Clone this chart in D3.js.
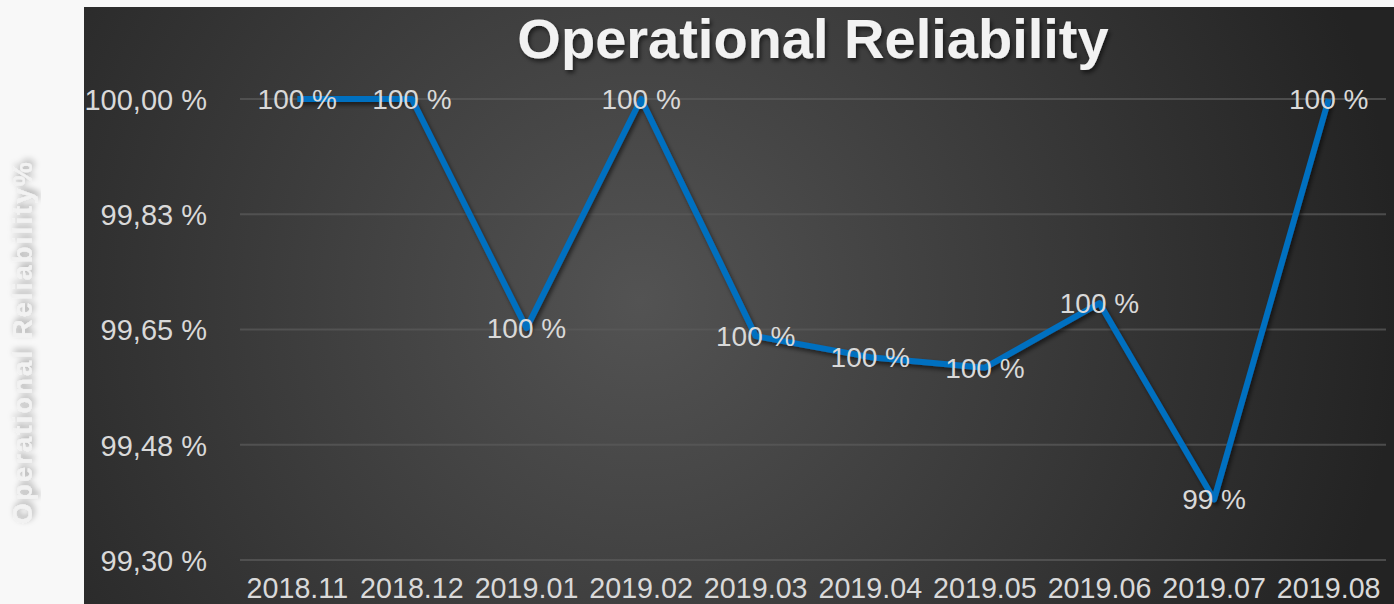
<!DOCTYPE html>
<html>
<head>
<meta charset="utf-8">
<script src="https://cdn.jsdelivr.net/npm/d3@7"></script>
<style>
  html, body { margin: 0; padding: 0; background: #f8f8f8; }
  svg { display: block; font-family: "Liberation Sans", Arial, sans-serif; }
</style>
</head>
<body>
<div id="chart"></div>
<script>
// chart values
const months = ['2018.11', '2018.12', '2019.01', '2019.02', '2019.03', '2019.04', '2019.05', '2019.06', '2019.07', '2019.08'];
const reliability = [100.0, 100.0, 99.652, 100.0, 99.640, 99.608, 99.592, 99.690, 99.392, 100.0];
const pointLabels = ['100 %', '100 %', '100 %', '100 %', '100 %', '100 %', '100 %', '100 %', '99 %', '100 %'];
const yTicks = [99.30, 99.475, 99.65, 99.825, 100.0];
const yTickLabels = ['99,30 %', '99,48 %', '99,65 %', '99,83 %', '100,00 %'];
const chartTitle = 'Operational Reliability';
const yTitle = 'Operational Reliability%';

const width = 1394, height = 604;
const panel = {x: 84, y: 7};
const plot = {left: 240, right: 1386, top: 99, bottom: 560};

const svg = d3.select('#chart').append('svg')
    .attr('width', width)
    .attr('height', height);

const defs = svg.append('defs');
const grad = defs.append('radialGradient')
    .attr('id', 'bg')
    .attr('gradientUnits', 'userSpaceOnUse')
    .attr('cx', 640).attr('cy', 300).attr('r', 760);
grad.append('stop').attr('offset', '0%').attr('stop-color', '#535353');
grad.append('stop').attr('offset', '100%').attr('stop-color', '#232323');

const shadow = defs.append('filter').attr('id', 'shadow')
    .attr('x', '-10%').attr('y', '-10%').attr('width', '120%').attr('height', '130%');
shadow.append('feDropShadow')
    .attr('dx', 2).attr('dy', 3).attr('stdDeviation', 2)
    .attr('flood-color', '#000').attr('flood-opacity', 0.55);

const softShadow = defs.append('filter').attr('id', 'softShadow')
    .attr('x', '-30%').attr('y', '-10%').attr('width', '160%').attr('height', '120%');
softShadow.append('feDropShadow')
    .attr('dx', 3).attr('dy', 2).attr('stdDeviation', 3)
    .attr('flood-color', '#000').attr('flood-opacity', 0.35);

// dark panel
svg.append('rect')
    .attr('x', panel.x).attr('y', panel.y)
    .attr('width', width - panel.x).attr('height', height - panel.y)
    .attr('fill', 'url(#bg)');

// scales
const xScale = d3.scaleBand().domain(months).range([plot.left, plot.right]);
const yScale = d3.scaleLinear().domain([99.30, 100.0]).range([plot.bottom, plot.top]);
const xPos = (d) => xScale(d) + xScale.bandwidth() / 2;

// gridlines
svg.append('g')
    .selectAll('line')
    .data(yTicks)
    .join('line')
    .attr('x1', plot.left).attr('x2', plot.right)
    .attr('y1', (d) => yScale(d)).attr('y2', (d) => yScale(d))
    .attr('stroke', '#595959')
    .attr('stroke-opacity', 0.75)
    .attr('stroke-width', 2);

// y axis labels
const yAxis = d3.axisLeft(yScale)
    .tickValues(yTicks)
    .tickFormat((d, i) => yTickLabels[i])
    .tickSize(0)
    .tickPadding(0);
const yAxisG = svg.append('g')
    .attr('transform', 'translate(207,0)')
    .call(yAxis);
yAxisG.select('.domain').remove();
yAxisG.selectAll('text')
    .attr('dy', '0.36em')
    .attr('fill', '#d9d9d9')
    .style('font-size', '29px')
    .style('font-family', '"Liberation Sans", Arial, sans-serif');

// x axis labels
const xAxis = d3.axisBottom(xScale).tickSize(0).tickPadding(0);
const xAxisG = svg.append('g')
    .attr('transform', 'translate(0,' + 598 + ')')
    .call(xAxis);
xAxisG.select('.domain').remove();
xAxisG.selectAll('text')
    .attr('y', 0)
    .attr('dy', 0)
    .attr('fill', '#d9d9d9')
    .style('font-size', '28.7px')
    .style('font-family', '"Liberation Sans", Arial, sans-serif');

// line
const line = d3.line()
    .x((d, i) => xPos(months[i]))
    .y((d) => yScale(d));

svg.append('path')
    .datum(reliability)
    .attr('d', line)
    .attr('fill', 'none')
    .attr('stroke', '#0070c0')
    .attr('stroke-width', 6)
    .attr('stroke-linejoin', 'round')
    .attr('filter', 'url(#shadow)');

// data labels
svg.append('g')
    .selectAll('text')
    .data(reliability)
    .join('text')
    .attr('x', (d, i) => xPos(months[i]))
    .attr('y', (d) => yScale(d) + 10)
    .attr('text-anchor', 'middle')
    .attr('fill', '#d9d9d9')
    .style('font-size', '28px')
    .text((d, i) => pointLabels[i]);

// title
svg.append('text')
    .attr('x', (plot.left + plot.right) / 2)
    .attr('y', 58)
    .attr('text-anchor', 'middle')
    .attr('fill', '#f2f2f2')
    .attr('font-weight', 'bold')
    .attr('filter', 'url(#shadow)')
    .style('font-size', '56px')
    .text(chartTitle);

// y axis title
svg.append('text')
    .attr('transform', 'translate(32,' + 342 + ') rotate(-90)')
    .attr('text-anchor', 'middle')
    .attr('fill', '#f2f2f2')
    .attr('font-weight', 'bold')
    .attr('filter', 'url(#softShadow)')
    .style('font-size', '27px')
    .style('letter-spacing', '2.3px')
    .text(yTitle);
</script>
</body>
</html>
